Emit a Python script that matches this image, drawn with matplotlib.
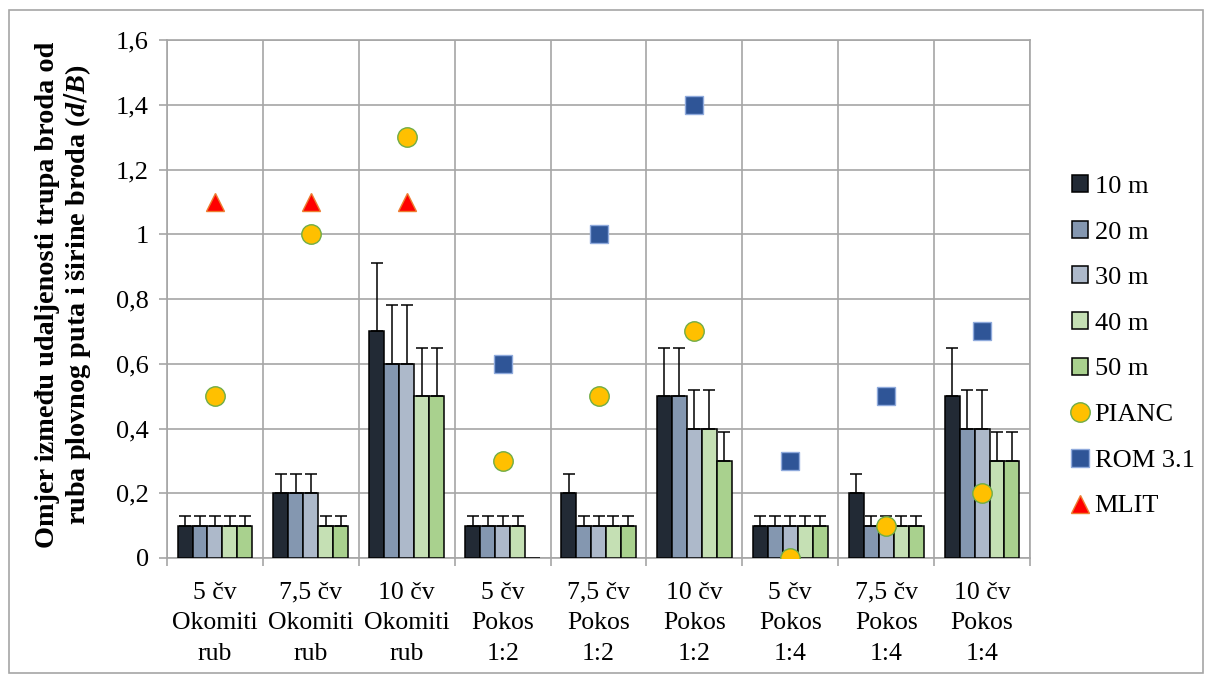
import numpy as np
import matplotlib.pyplot as plt
from matplotlib.patches import Rectangle

categories = ['5 čv\nOkomiti\nrub', '7,5 čv\nOkomiti\nrub', '10 čv\nOkomiti\nrub',
              '5 čv\nPokos\n1:2', '7,5 čv\nPokos\n1:2', '10 čv\nPokos\n1:2',
              '5 čv\nPokos\n1:4', '7,5 čv\nPokos\n1:4', '10 čv\nPokos\n1:4']
series_names = ['10 m', '20 m', '30 m', '40 m', '50 m']
v10 = [0.1, 0.2, 0.7, 0.1, 0.2, 0.5, 0.1, 0.2, 0.5]
v20 = [0.1, 0.2, 0.6, 0.1, 0.1, 0.5, 0.1, 0.1, 0.4]
v30 = [0.1, 0.2, 0.6, 0.1, 0.1, 0.4, 0.1, 0.1, 0.4]
v40 = [0.1, 0.1, 0.5, 0.1, 0.1, 0.4, 0.1, 0.1, 0.3]
v50 = [0.1, 0.1, 0.5, 0.0, 0.1, 0.3, 0.1, 0.1, 0.3]
e10 = [0.03, 0.06, 0.21, 0.03, 0.06, 0.15, 0.03, 0.06, 0.15]
e20 = [0.03, 0.06, 0.18, 0.03, 0.03, 0.15, 0.03, 0.03, 0.12]
e30 = [0.03, 0.06, 0.18, 0.03, 0.03, 0.12, 0.03, 0.03, 0.12]
e40 = [0.03, 0.03, 0.15, 0.03, 0.03, 0.12, 0.03, 0.03, 0.09]
e50 = [0.03, 0.03, 0.15, 0.0, 0.03, 0.09, 0.03, 0.03, 0.09]
pianc = [0.5, 1.0, 1.3, 0.3, 0.5, 0.7, 0.0, 0.1, 0.2]
rom = [np.nan, np.nan, np.nan, 0.6, 1.0, 1.4, 0.3, 0.5, 0.7]
mlit = [1.1, 1.1, 1.1, np.nan, np.nan, np.nan, np.nan, np.nan, np.nan]
yticks = [0, 0.2, 0.4, 0.6, 0.8, 1.0, 1.2, 1.4, 1.6]
ytick_labels = ['0', '0,2', '0,4', '0,6', '0,8', '1', '1,2', '1,4', '1,6']

plt.rcParams['font.family'] = 'Liberation Serif'
plt.rcParams['mathtext.fontset'] = 'custom'
plt.rcParams['mathtext.it'] = 'Liberation Serif:italic:bold'

bar_colors = ['#222A35', '#8497B0', '#ADB9CA', '#C5E0B4', '#A9D18E']
grid_c = '#A6A6A6'

fig = plt.figure(figsize=(12.05, 6.75), dpi=100)
fig.patches.append(Rectangle((9 / 1205, 2 / 675), 1194 / 1205, 663 / 675,
                             transform=fig.transFigure, fill=False,
                             edgecolor=grid_c, linewidth=1.2))
ax = fig.add_axes([167 / 1205, 117 / 675, 863 / 1205, 518 / 675])

x = np.arange(1, len(categories) + 1)
w = 0.156
values = [v10, v20, v30, v40, v50]
errs = [e10, e20, e30, e40, e50]
handles = []
for i in range(5):
    pos = x + (i - 2) * w
    b = ax.bar(pos, values[i], w, color=bar_colors[i], edgecolor='black',
               linewidth=1.1, zorder=3, label=series_names[i])
    err = np.array(errs[i])
    vals = np.array(values[i])
    m = err > 0
    ax.errorbar(pos[m], vals[m], yerr=[np.zeros(m.sum()), err[m]], fmt='none',
                ecolor='black', elinewidth=1.1, capsize=4.3, capthick=1.1, zorder=4)
    handles.append(b)

h1, = ax.plot(x, pianc, 'o', ms=14, mfc='#FFC000', mec='#70AD47', mew=1,
              ls='none', zorder=5, label='PIANC')
h2, = ax.plot(x, rom, 's', ms=13, mfc='#2F5597', mec='#8FAADC', mew=1,
              ls='none', zorder=5, label='ROM 3.1')
h3, = ax.plot(x, mlit, '^', ms=13.5, mfc='#FF0000', mec='#ED7D31', mew=1,
              ls='none', zorder=5, label='MLIT')
handles += [h1, h2, h3]

ax.set_xlim(0.5, len(categories) + 0.5)
ax.set_ylim(0, 1.6)
ax.set_yticks(yticks)
ax.set_yticklabels(ytick_labels)
ax.set_xticks(x)
ax.set_xticklabels(categories, linespacing=1.5)
ax.set_xticks(np.arange(0.5, len(categories) + 1), minor=True)
ax.tick_params(axis='x', which='major', length=0, labelsize=18.5, pad=17)
ax.tick_params(axis='x', which='minor', length=6, color=grid_c, width=1.2)
ax.tick_params(axis='y', length=6, color=grid_c, width=1.2, labelsize=19, pad=7)
ax.grid(axis='y', color=grid_c, linewidth=1.2, zorder=0)
ax.grid(axis='x', which='minor', color=grid_c, linewidth=1.2, zorder=0)
ax.set_axisbelow(True)
for s in ax.spines.values():
    s.set_color(grid_c)
    s.set_linewidth(1.2)

fig.text(0.053, 0.563, 'Omjer između udaljenosti trupa broda od\nruba plovnog puta i širine broda ($d/B$)',
         rotation=90, ha='center', va='center', fontsize=20.3, fontweight='bold',
         linespacing=1.1)

fig.legend(handles=handles, loc='center left', bbox_to_anchor=(0.870, 0.487),
           frameon=False, fontsize=19, handlelength=0.6, handleheight=0.6,
           handletextpad=0.25, labelspacing=0.87)

fig.savefig('out.png', dpi=100)
